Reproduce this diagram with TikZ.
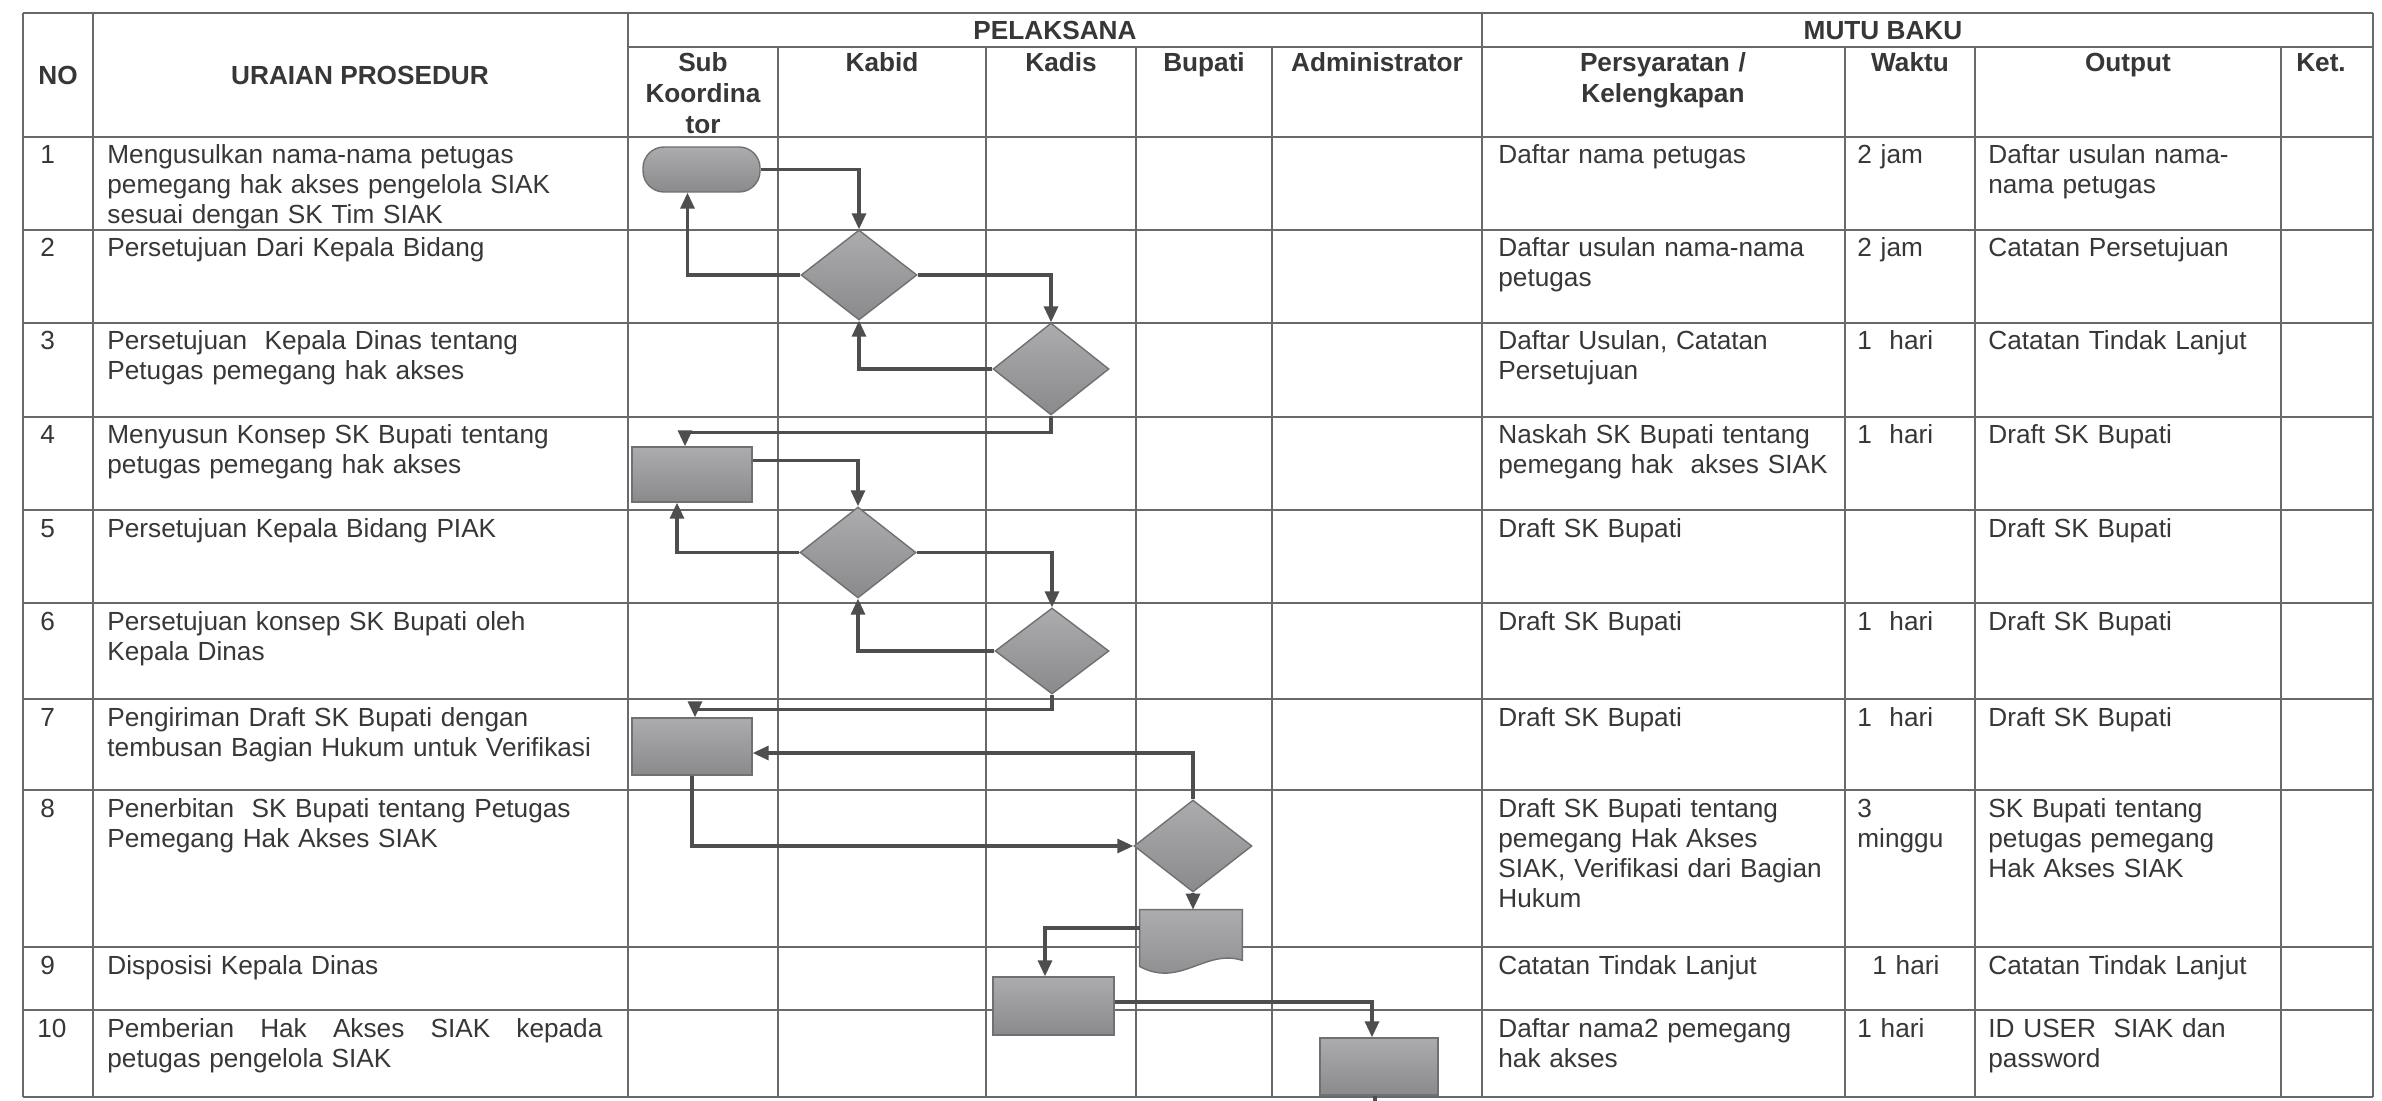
\documentclass[tikz,border=0pt]{standalone}
\usepackage{fontspec}
\setmainfont{Liberation Sans}
\usetikzlibrary{shapes.geometric,arrows.meta,calc}
\definecolor{txt}{RGB}{55,55,55}
\definecolor{gridc}{RGB}{105,105,105}
\definecolor{shptop}{RGB}{172,172,174}
\definecolor{shpbot}{RGB}{138,138,141}
\definecolor{shpline}{RGB}{112,112,115}
\definecolor{conc}{RGB}{78,78,78}
\newcommand{\mybody}{\fontsize{13.1pt}{15pt}\selectfont}
\newcommand{\myhead}{\fontsize{13.1pt}{15.5pt}\selectfont\bfseries}
\tikzset{
  cell/.style={anchor=base west,inner sep=0pt,text width=#1,align=left,font=\mybody,text=txt},
  cell/.default=180pt,
  hdr/.style={anchor=base,inner sep=0pt,align=center,font=\myhead,text=txt},
  gridline/.style={draw=gridc,line width=1pt},
  shp/.style={draw=shpline,line width=0.7pt,top color=shptop,bottom color=shpbot,inner sep=0pt},
  boxshape/.style={shp,rectangle,minimum width=#1},
  diashape/.style={shp,diamond},
  conn/.style={draw=conc,line width=1.6pt,-{Triangle[length=8pt,width=7pt]}},
  connplain/.style={draw=conc,line width=1.6pt},
}
\begin{document}
\begin{tikzpicture}[x=0.5pt,y=-0.5pt]
\useasboundingbox (0,0) rectangle (2382,1101);
\fill[white] (0,0) rectangle (2382,1101);
% ---- grid ----
\foreach \yy in {13,137,230,323,417,510,603,699,790,947,1010,1097}
  \draw[gridline] (23,\yy) -- (2373,\yy);
\draw[gridline] (628,47) -- (2373,47);
\foreach \xx in {23,93,628,1482,2373}
  \draw[gridline] (\xx,13) -- (\xx,1097);
\foreach \xx in {778,986,1136,1272,1845,1975,2281}
  \draw[gridline] (\xx,47) -- (\xx,1097);
% ---- header ----
\node[hdr,anchor=center] (hNO) at (58,75) {NO};
\node[hdr,anchor=center] (hUR) at (360,75) {URAIAN PROSEDUR};
\node[hdr] (hPL) at (1055,40) {PELAKSANA};
\node[hdr] (hMB) at (1883,40) {MUTU BAKU};
\node[hdr,text width=75pt] (hSK) at (703,72) {Sub\\Koordina\\tor};
\node[hdr] (hKB) at (882,72) {Kabid};
\node[hdr] (hKD) at (1061,72) {Kadis};
\node[hdr] (hBP) at (1204,72) {Bupati};
\node[hdr] (hAD) at (1377,72) {Administrator};
\node[hdr,text width=180pt] (hPS) at (1663,72) {Persyaratan /\\Kelengkapan};
\node[hdr] (hWK) at (1910,72) {Waktu};
\node[hdr] (hOP) at (2128,72) {Output};
\node[hdr] (hKT) at (2321,72) {Ket.};
% ---- numbers ----
\node[cell=20pt] (n1) at (40,164) {1};
\node[cell=20pt] (n2) at (40,257) {2};
\node[cell=20pt] (n3) at (40,350) {3};
\node[cell=20pt] (n4) at (40,444) {4};
\node[cell=20pt] (n5) at (40,537) {5};
\node[cell=20pt] (n6) at (40,630) {6};
\node[cell=20pt] (n7) at (40,726) {7};
\node[cell=20pt] (n8) at (40,817) {8};
\node[cell=20pt] (n9) at (40,974) {9};
\node[cell=20pt] (n10) at (37,1037) {10};
% ---- uraian ----
\node[cell=260pt] (u1) at (107,164) {Mengusulkan nama-nama petugas\\pemegang hak akses pengelola SIAK\\sesuai dengan SK Tim SIAK};
\node[cell=260pt] (u2) at (107,257) {Persetujuan Dari Kepala Bidang};
\node[cell=260pt] (u3) at (107,350) {Persetujuan\ \ Kepala Dinas tentang\\Petugas pemegang hak akses};
\node[cell=260pt] (u4) at (107,444) {Menyusun Konsep SK Bupati tentang\\petugas pemegang hak akses};
\node[cell=260pt] (u5) at (107,537) {Persetujuan Kepala Bidang PIAK};
\node[cell=260pt] (u6) at (107,630) {Persetujuan konsep SK Bupati oleh\\Kepala Dinas};
\node[cell=260pt] (u7) at (107,726) {Pengiriman Draft SK Bupati dengan\\tembusan Bagian Hukum untuk Verifikasi};
\node[cell=260pt] (u8) at (107,817) {Penerbitan\ \ SK Bupati tentang Petugas\\Pemegang Hak Akses SIAK};
\node[cell=260pt] (u9) at (107,974) {Disposisi Kepala Dinas};
\node[cell=260pt] (u10) at (107,1037) {\hbox to 247.5pt{Pemberian\hfill Hak\hfill Akses\hfill SIAK\hfill kepada}\\petugas pengelola SIAK};
% ---- persyaratan ----
\node[cell] (p1) at (1498,164) {Daftar nama petugas};
\node[cell] (p2) at (1498,257) {Daftar usulan nama-nama\\petugas};
\node[cell] (p3) at (1498,350) {Daftar Usulan, Catatan\\Persetujuan};
\node[cell] (p4) at (1498,444) {Naskah SK Bupati tentang\\pemegang hak\ \ akses SIAK};
\node[cell] (p5) at (1498,537) {Draft SK Bupati};
\node[cell] (p6) at (1498,630) {Draft SK Bupati};
\node[cell] (p7) at (1498,726) {Draft SK Bupati};
\node[cell] (p8) at (1498,817) {Draft SK Bupati tentang\\pemegang Hak Akses\\SIAK, Verifikasi dari Bagian\\Hukum};
\node[cell] (p9) at (1498,974) {Catatan Tindak Lanjut};
\node[cell] (p10) at (1498,1037) {Daftar nama2 pemegang\\hak akses};
% ---- waktu ----
\node[cell=60pt] (w1) at (1857,164) {2 jam};
\node[cell=60pt] (w2) at (1857,257) {2 jam};
\node[cell=60pt] (w3) at (1857,350) {1\ \ hari};
\node[cell=60pt] (w4) at (1857,444) {1\ \ hari};
\node[cell=60pt] (w6) at (1857,630) {1\ \ hari};
\node[cell=60pt] (w7) at (1857,726) {1\ \ hari};
\node[cell=60pt] (w8) at (1857,817) {3\\minggu};
\node[cell=60pt] (w9) at (1872,974) {1 hari};
\node[cell=60pt] (w10) at (1857,1037) {1 hari};
% ---- output ----
\node[cell=145pt] (o1) at (1988,164) {Daftar usulan nama-\\nama petugas};
\node[cell=145pt] (o2) at (1988,257) {Catatan Persetujuan};
\node[cell=145pt] (o3) at (1988,350) {Catatan Tindak Lanjut};
\node[cell=145pt] (o4) at (1988,444) {Draft SK Bupati};
\node[cell=145pt] (o5) at (1988,537) {Draft SK Bupati};
\node[cell=145pt] (o6) at (1988,630) {Draft SK Bupati};
\node[cell=145pt] (o7) at (1988,726) {Draft SK Bupati};
\node[cell=145pt] (o8) at (1988,817) {SK Bupati tentang\\petugas pemegang\\Hak Akses SIAK};
\node[cell=145pt] (o9) at (1988,974) {Catatan Tindak Lanjut};
\node[cell=145pt] (o10) at (1988,1037) {ID USER\ \ SIAK dan\\password};
% ---- flowchart shapes ----
\node[shp,rectangle,rounded corners=10.5pt,minimum width=58.5pt,minimum height=22.5pt] (term) at (701.5,169.5) {};
\node[diashape,minimum width=58pt,minimum height=45pt] (d1) at (859,275) {};
\node[diashape,minimum width=58pt,minimum height=46pt] (d2) at (1051,369) {};
\node[boxshape=60pt,minimum height=27.5pt] (r4) at (692,474.5) {};
\node[diashape,minimum width=58pt,minimum height=45.5pt] (d3) at (858,552.5) {};
\node[diashape,minimum width=57pt,minimum height=43pt] (d4) at (1052,651) {};
\node[boxshape=60pt,minimum height=28.5pt] (r7) at (692,746.5) {};
\node[diashape,minimum width=59pt,minimum height=46pt] (d5) at (1193,846) {};
\node[rectangle,inner sep=0pt,minimum width=51pt,minimum height=31pt] (doc) at (1191,941) {};
\path[shp] (doc.north west) -- (doc.north east) -- ([yshift=6pt]doc.south east)
  .. controls ([xshift=7pt,yshift=12pt]doc.south) and ([xshift=-5.5pt,yshift=-8pt]doc.south) ..
  ([yshift=3pt]doc.south west) -- cycle;
\node[boxshape=60.5pt,minimum height=29pt] (r9) at (1053.5,1006) {};
\node[boxshape=59pt,minimum height=28.5pt] (r10) at (1379,1066.5) {};
\coordinate (tail) at (1375,1101);
% ---- connectors ----
\draw[conn] (term.east) -| (d1.north);
\draw[conn] (d1.west) -| ([xshift=-7pt]term.south);
\draw[conn] (d1.east) -| (d2.north);
\draw[conn] (d2.west) -| (d1.south);
\draw[conn] (d2.south) |- ([xshift=-3.5pt,yshift=7pt]r4.north) -- ([xshift=-3.5pt]r4.north);
\draw[conn] ([yshift=7pt]r4.east) -| (d3.north);
\draw[conn] (d3.west) -| ([xshift=-7.5pt]r4.south);
\draw[conn] (d3.east) -| (d4.north);
\draw[conn] (d4.west) -| (d3.south);
\draw[conn] (d4.south) |- ([xshift=1.5pt,yshift=4pt]r7.north) -- ([xshift=1.5pt]r7.north);
\draw[conn] (d5.north) |- ([yshift=-3.25pt]r7.east);
\draw[conn] (r7.south) |- (d5.west);
\draw[conn] (d5.south) -- (d5.south |- doc.north);
\draw[conn] ([yshift=6.5pt]doc.west) -| ([xshift=-4.25pt]r9.north);
\draw[conn] ([yshift=2pt]r9.east) -| ([xshift=-3.5pt]r10.north);
\draw[connplain] ([xshift=-2pt]r10.south) -- (tail);
\end{tikzpicture}
\end{document}
